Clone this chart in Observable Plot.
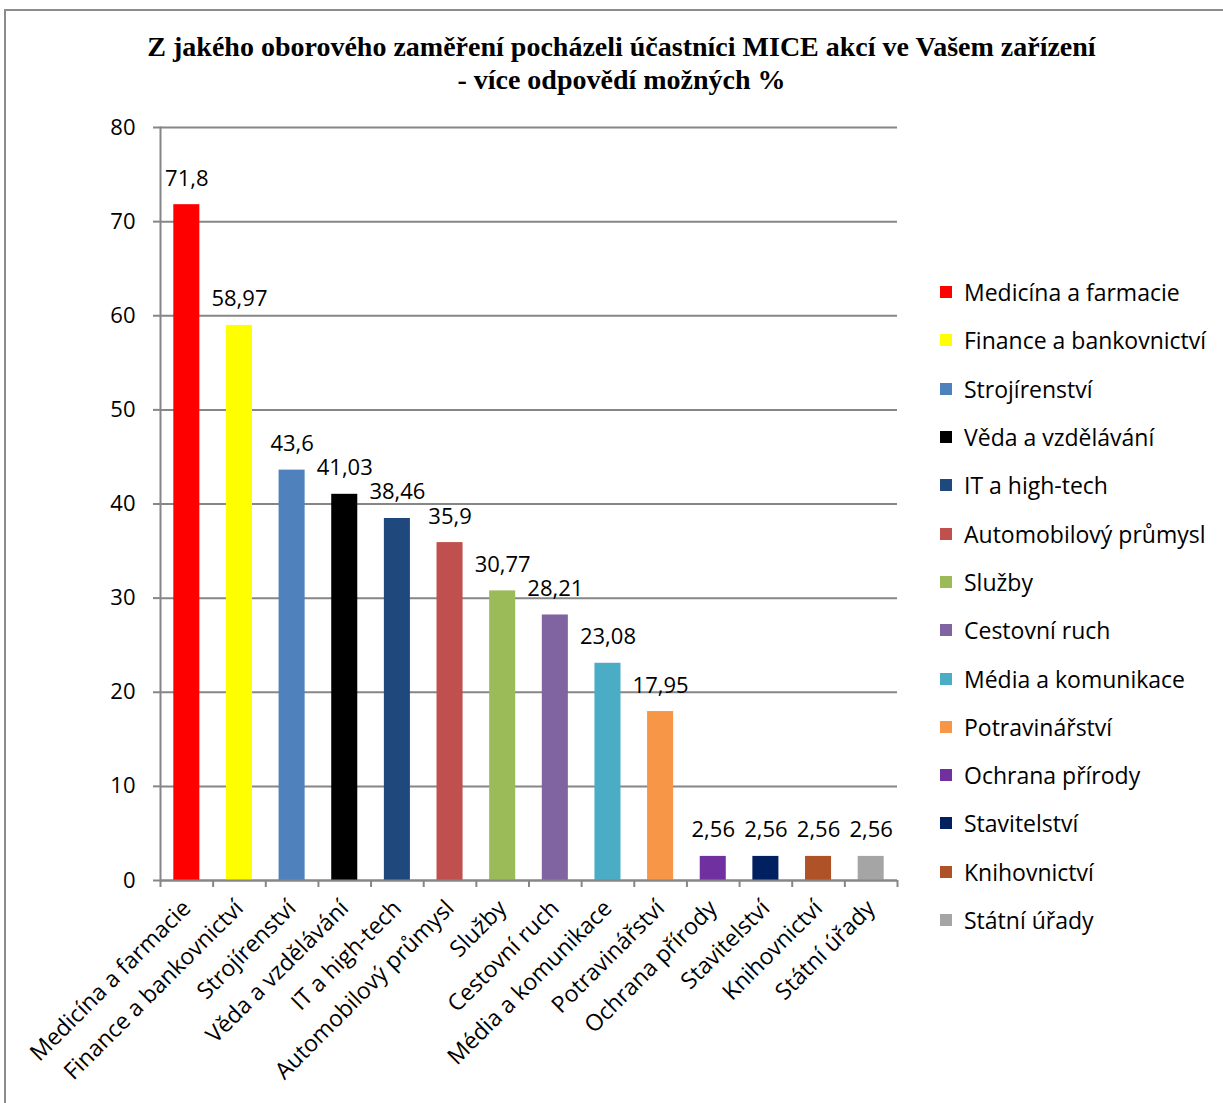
<!DOCTYPE html>
<html>
<head>
<meta charset="utf-8">
<script src="https://cdn.jsdelivr.net/npm/d3@7"></script>
<script src="https://cdn.jsdelivr.net/npm/@observablehq/plot@0.6"></script>
<style>
  body { margin: 0; background: #fff; }
  #wrap { position: relative; width: 1223px; height: 1103px; overflow: hidden; background: #fff; }
  #frame { position: absolute; left: 4px; top: 9px; width: 1240px; height: 1120px; border: 2px solid #8c8c8c; box-sizing: border-box; }
  #title { position: absolute; left: 10px; top: 30px; width: 1223px; text-align: center; font-family: "Liberation Serif", serif; font-weight: bold; font-size: 28px; line-height: 33px; color: #000; }
  #chart { position: absolute; left: 0; top: 0; }
  #legend { position: absolute; left: 940px; top: 268px; font-family: "Open Sans", sans-serif; font-size: 23px; color: #000; }
  .item { height: 48.3px; display: flex; align-items: center; white-space: nowrap; }
  .sw { width: 12px; height: 12px; margin-right: 12px; flex: none; }
</style>
</head>
<body>
<div id="wrap">
  <div id="frame"></div>
  <div id="chart"></div>
  <div id="title">Z jakého oborového zaměření pocházeli účastníci MICE akcí ve Vašem zařízení<br>- více odpovědí možných %</div>
  <div id="legend"></div>
</div>
<script>
const categories = ["Medicína a farmacie","Finance a bankovnictví","Strojírenství","Věda a vzdělávání","IT a high-tech","Automobilový průmysl","Služby","Cestovní ruch","Média a komunikace","Potravinářství","Ochrana přírody","Stavitelství","Knihovnictví","Státní úřady"];
const values = [71.8, 58.97, 43.6, 41.03, 38.46, 35.9, 30.77, 28.21, 23.08, 17.95, 2.56, 2.56, 2.56, 2.56];
const colors = ["#FF0000","#FFFF00","#4F81BD","#000000","#1F497D","#C0504D","#9BBB59","#8064A2","#4BACC6","#F79646","#7030A0","#002060","#B05228","#A5A5A5"];
const yTicks = [0, 10, 20, 30, 40, 50, 60, 70, 80];

const data = categories.map((c, i) => ({cat: c, value: values[i], label: String(values[i]).replace(".", ",")}));

const W = 1223, H = 1090, mL = 160, mR = 326, mT = 127, mB = 210;
const step = (W - mL - mR) / categories.length;
const gray = "#868686";

const chart = Plot.plot({
  width: W, height: H,
  marginLeft: mL, marginRight: mR, marginTop: mT, marginBottom: mB,
  style: {fontFamily: "Open Sans", fontSize: "22px", color: "#000", background: "transparent", overflow: "visible"},
  x: {domain: categories, padding: 0, round: false},
  y: {domain: [0, 80]},
  color: {domain: categories, range: colors},
  marks: [
    Plot.gridY(yTicks, {stroke: gray, strokeOpacity: 1, strokeWidth: 2}),
    Plot.axisY(yTicks, {tickSize: 7, tickPadding: 18, stroke: gray, strokeWidth: 2, strokeOpacity: 1, label: null, fontSize: 22}),
    Plot.frame({anchor: "left", stroke: gray, strokeWidth: 2}),
    Plot.barY(data, {x: "cat", y: "value", fill: "cat", insetLeft: 13.3, insetRight: 13.3}),
    Plot.ruleY([0], {stroke: gray, strokeWidth: 2}),
    Plot.ruleX(categories, {x: d => d, dx: -step / 2, y1: 0, y2: 0, insetBottom: -7, stroke: gray, strokeWidth: 2}),
    Plot.ruleX(categories.slice(-1), {x: d => d, dx: step / 2, y1: 0, y2: 0, insetBottom: -7, stroke: gray, strokeWidth: 2}),
    Plot.axisX({tickRotate: -45, tickSize: 0, tickPadding: 24, label: null, fontSize: 23}),
    Plot.text(data, {x: "cat", y: "value", text: "label", dy: -19, lineAnchor: "bottom", fontSize: 22})
  ]
});
document.getElementById("chart").appendChild(chart);

const legend = d3.select("#legend");
categories.forEach((c, i) => {
  const it = legend.append("div").attr("class", "item");
  it.append("div").attr("class", "sw").style("background", colors[i]);
  it.append("span").text(c);
});
</script>
</body>
</html>
